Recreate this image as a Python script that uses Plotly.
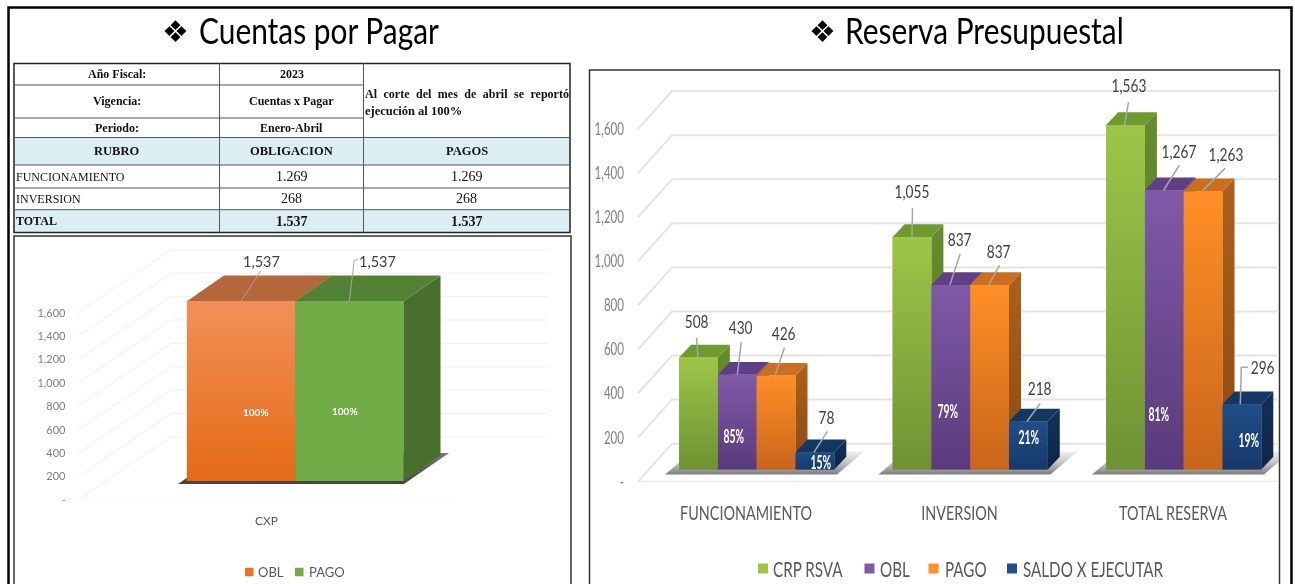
import plotly.graph_objects as go

W, H = 1295, 584
COND = "Lato, Noto Sans, sans-serif"   # Lato, condensed after drawing (see post_script)
SERIF = "Liberation Serif, serif"
LATO = "Lato, sans-serif"

# ---- data -----------------------------------------------------------
res_categories = ["FUNCIONAMIENTO", "INVERSION", "TOTAL RESERVA"]
res_series = ["CRP RSVA", "OBL", "PAGO", "SALDO X EJECUTAR"]
crp_rsva = [508, 1055, 1563]
obl = [430, 837, 1267]
pago = [426, 837, 1263]
saldo = [78, 218, 296]
obl_pct = ["85%", "79%", "81%"]
saldo_pct = ["15%", "21%", "19%"]

cxp_categories = ["CXP"]
cxp_series = ["OBL", "PAGO"]
cxp_obl = [1537]
cxp_pago = [1537]
cxp_pct = ["100%", "100%"]

y_ticks = [0, 200, 400, 600, 800, 1000, 1200, 1400, 1600]
y_ticktext = ["-", "200", "400", "600", "800", "1,000", "1,200", "1,400", "1,600"]

table_rows = [
    ["Año Fiscal:", "2023"],
    ["Vigencia:", "Cuentas x Pagar"],
    ["Periodo:", "Enero-Abril"],
]
table_head = ["RUBRO", "OBLIGACION", "PAGOS"]
table_body = [
    ["FUNCIONAMIENTO", "1.269", "1.269"],
    ["INVERSION", "268", "268"],
]
table_total = ["TOTAL", "1.537", "1.537"]
table_note = ["Al corte del mes de abril se reportó", "ejecución al 100%"]

# ---- styles ---------------------------------------------------------
res_colors = [
    dict(top="#9DC648", bot="#6E9233", side0="#668C2C", side1="#557524", cap="#6F9A30"),
    dict(top="#7F5AA8", bot="#5A3A7C", side0="#5B3C7E", side1="#4A2F69", cap="#5F3F85"),
    dict(top="#FF8F26", bot="#C9651B", side0="#AE601A", side1="#8A4A14", cap="#C96F1F"),
    dict(top="#1F4E88", bot="#17396A", side0="#12305A", side1="#0F2647", cap="#123763"),
]
cxp_colors = [
    dict(top="#F39058", bot="#E56A15", side0="#B5673C", side1="#B5673C", cap="#B5673C"),
    dict(top="#70AD47", bot="#70AD47", side0="#48702C", side1="#48702C", cap="#548235"),
]


def fx(px):
    return px / W


def fy(py):
    return 1 - py / H


fig = go.Figure()
shapes, annos = [], []


def text(px, py, s, size, color="#000", font=COND, anchor="center", weight=400):
    annos.append(dict(xref="paper", yref="paper", x=fx(px), y=fy(py), text=s, showarrow=False,
                      xanchor=anchor, yanchor="middle",
                      font=dict(size=size, color=color, family=font, weight=weight),
                      borderpad=0, align=anchor))


def rect(x0, y0, x1, y1, line="rgba(0,0,0,0)", width=0, fill=None):
    shapes.append(dict(type="rect", xref="paper", yref="paper", x0=fx(x0), x1=fx(x1), y0=fy(y0), y1=fy(y1),
                       line=dict(color=line, width=width), fillcolor=fill, layer="below"))


def panel(name_x, name_y, left, right, ztop, zero, tick_x, slot, sy, axis_x):
    """Axes calibrated in pixels: x in category slots, y in value units."""
    xr = [(left - tick_x) / slot, (right - tick_x) / slot]
    yr = [0, (zero - ztop) / sy]
    return dict(
        x=name_x, y=name_y, xr=xr, yr=yr, slot=slot, sy=sy, tick_x=tick_x, zero=zero,
        dom_x=[fx(left), fx(right)], dom_y=[fy(zero), fy(ztop)], axis_x=axis_x,
    )


def poly(p, xs, ys, color=None, grad=None, gtype="vertical"):
    tr = dict(x=xs, y=ys, xaxis=p["x"], yaxis=p["y"], mode="lines", fill="toself",
              line=dict(width=0), hoverinfo="skip", showlegend=False)
    if grad:
        tr["fillgradient"] = dict(type=gtype, colorscale=[[0, grad[0]], [1, grad[1]]])
    else:
        tr["fillcolor"] = color
    fig.add_trace(go.Scatter(**tr))


def seg(p, xs, ys, color, width):
    fig.add_trace(go.Scatter(x=xs, y=ys, xaxis=p["x"], yaxis=p["y"], mode="lines",
                             line=dict(color=color, width=width), hoverinfo="skip", showlegend=False))


def walls(p, dxpx, dypx, right_px, floor_right_px, left_px, color, width):
    dx = dxpx / p["slot"]
    dy = dypx / p["sy"]
    x0 = (left_px - p["tick_x"]) / p["slot"]
    xe = (right_px - p["tick_x"]) / p["slot"]
    xf = (floor_right_px - p["tick_x"]) / p["slot"]
    for t in y_ticks:
        seg(p, [x0, x0 + dx, xe], [t, t + dy, t + dy], color, width)
    seg(p, [x0, xf], [0, 0], color, width)


def bars(p, cats, names, values, colors, x_shift, bw, floor, ddx, ddy):
    """values: list per series. Returns a helper giving bar centres."""
    n = len(names)
    b = bw / p["slot"]
    centre = lambda i, k: i + x_shift / p["slot"] + (k - (n - 1) / 2) * b
    for k, name in enumerate(names):
        fig.add_trace(go.Bar(x=[centre(i, k) for i in range(len(cats))], y=values[k],
                             base=floor, width=b, name=name, xaxis=p["x"], yaxis=p["y"],
                             marker=dict(color=colors[k]["top"], line=dict(width=0)),
                             hoverinfo="skip", showlegend=False))
    dx = ddx / p["slot"]
    dy = ddy / p["sy"]
    for i in range(len(cats)):
        for k in range(n):
            c = colors[k]
            xl = centre(i, k) - b / 2
            xr = xl + b
            top = floor + values[k][i]
            poly(p, [xr, xr + dx, xr + dx, xr, xr], [floor, floor + dy, top + dy, top, floor],
                 grad=(c["side1"], c["side0"]))
            poly(p, [xl, xr, xr + dx, xl + dx, xl], [top, top, top + dy, top + dy, top], color=c["cap"])
            poly(p, [xl, xr, xr, xl, xl], [floor, floor, top, top, floor], grad=(c["bot"], c["top"]))
    return centre


def shadow(p, xl_px, xr_px, floor, front, back_x, back_y, col):
    """Ground shadow for a group, in pixel offsets from the group's foot."""
    s, sy = p["slot"], p["sy"]
    x = lambda v: (v - p["tick_x"]) / s
    xs = [x(xl_px), x(xr_px), x(xr_px + back_x), x(xl_px + back_x), x(xl_px)]
    ys = [floor - front / sy, floor - front / sy, floor + back_y / sy, floor + back_y / sy, floor - front / sy]
    poly(p, xs, ys, grad=col)


def value_label(p, xc, v, floor, s, off, leader, size, color, font, lcolor, lw):
    y = floor + v
    annos.append(dict(xref=p["x"], yref=p["y"], x=xc, y=y, xshift=off[0], yshift=-off[1], text=s,
                      showarrow=False, font=dict(size=size, color=color, family=font), borderpad=0))
    seg(p, [xc + q[0] / p["slot"] for q in leader], [y - q[1] / p["sy"] for q in leader], lcolor, lw)


# ---- panels ---------------------------------------------------------
R = panel("x", "y", 590, 1279, 71, 481.7, 746, 213.5, 0.2204, 624)
L = panel("x2", "y2", 14, 571, 237, 500, 266.4, 216.6, 0.117, 65.5)

walls(R, 34, 38, 1279, 1278, 638, "#E4E4E4", 2)
walls(L, 93, 63, 548, 457, 78, "#EFEFEF", 1)

# right chart
R_FLOOR = (481.7 - 469.5) / R["sy"]
R_SHIFT = 10.7
R_BW = 38.8
res_vals = [crp_rsva, obl, pago, saldo]
for i in range(3):
    foot = 679 + i * 213.5
    shadow(R, foot - 14, foot + 155 + 3, R_FLOOR, 5, 27, 18, ("rgba(80,80,80,0.75)", "rgba(170,170,170,0.2)"))
centre = bars(R, res_categories, res_series, res_vals, res_colors, R_SHIFT, R_BW, R_FLOOR, 12, 12.7)

res_label_off = [
    [(-2, -36.5), (0, -46), (3, -40)],
    [(3.3, -48), (8.7, -46), (14.3, -39)],
    [(7.4, -43), (8.6, -34), (22.5, -37)],
    [(12, -35.6), (11, -33), (20.7, -37.6)],
]
res_leaders = [
    [[(-0.5, 0), (-2, -20)], [(0, 0), (0.5, -29)], [(-1, 0), (3, -23)]],
    [[(0, 0), (4, -33)], [(-1, 0), (9.4, -31)], [(-0.7, 0), (15, -25)]],
    [[(-1, 0), (8.4, -28)], [(-1, 0), (10, -20)], [(-1, 0), (22.2, -23)]],
    [[(-1, 0), (12.6, -21)], [(-1.5, 0), (11.8, -18)], [(-1.6, 0), (-0.6, -37), (6, -37)]],
]
for k, vals in enumerate(res_vals):
    for i, v in enumerate(vals):
        value_label(R, centre(i, k), v, R_FLOOR, f"{v:,}", res_label_off[k][i], res_leaders[k][i],
                    18, "#404040", COND, "#A6A6A6", 1.5)

pct_off = dict(obl=[(-3.7, 33.8), (-3.3, 59.5), (-5, 56.2)], saldo=[(5.6, 8.5), (0.5, 32.8), (7.4, 30.5)])
for k, labs, offs in ((1, obl_pct, pct_off["obl"]), (3, saldo_pct, pct_off["saldo"])):
    for i, s in enumerate(labs):
        annos.append(dict(xref="x", yref="y", x=centre(i, k), y=R_FLOOR, xshift=offs[i][0], yshift=offs[i][1],
                          text=s, showarrow=False, borderpad=0,
                          font=dict(size=19, color="#FFFFFF", family=COND, weight=700)))

# left chart
L_FLOOR = (500 - 481) / L["sy"]
shadow(L, 178, 404, L_FLOOR, 3, 45, 28, ("#444444", "#777777"))
cxp_vals = [cxp_obl, cxp_pago]
centre2 = bars(L, cxp_categories, cxp_series, cxp_vals, cxp_colors, 28.8, 108.3, L_FLOOR, 37, 25.7)
cxp_off = [(20, -40), (28, -40)]
cxp_leaders = [[(0, 0), (20, -30.7)], [(0, 0), (4.8, -40.7), (8.8, -41.7)]]
for k, vals in enumerate(cxp_vals):
    value_label(L, centre2(0, k), vals[0], L_FLOOR, f"{vals[0]:,}", cxp_off[k], cxp_leaders[k],
                14.5, "#404040", LATO, "#A6A6A6", 1)
for k, (dx_, up) in enumerate([(15.4, 69.3), (-4.2, 70.3)]):
    annos.append(dict(xref="x2", yref="y2", x=centre2(0, k), y=L_FLOOR, xshift=dx_, yshift=up,
                      text=cxp_pct[k], showarrow=False, borderpad=0,
                      font=dict(size=10, color="#FFFFFF", family=LATO, weight=700)))

# ---- frames ---------------------------------------------------------
rect(8.5, 7.5, 1291.5, 610, line="#000000", width=2.5)
rect(14, 236, 571, 610, line="#333333", width=1.5)
rect(589.5, 70, 1279.5, 610, line="#333333", width=1.5)

# ---- titles ---------------------------------------------------------
text(175.5, 31, "❖", 30, "#000", "DejaVu Sans")
text(198, 30, "Cuentas por Pagar", 36, "#000", COND, "left")
text(822, 31, "❖", 30, "#000", "DejaVu Sans")
text(844, 30, "Reserva Presupuestal", 36, "#000", COND, "left")

# ---- table ----------------------------------------------------------
TX = [14, 219.5, 363.5, 570]
TY = [63.5, 85, 118, 137.5, 165, 188, 209.7, 232.5]
rect(TX[0], TY[3], TX[3], TY[4], fill="#DAEEF3")
rect(TX[0], TY[6], TX[3], TY[7], fill="#DAEEF3")
for j in range(1, 7):
    x_end = TX[2] if j < 3 else TX[3]
    shapes.append(dict(type="line", xref="paper", yref="paper", x0=fx(TX[0]), x1=fx(x_end), y0=fy(TY[j]), y1=fy(TY[j]),
                       line=dict(color="#555555", width=1)))
for x_ in TX[1:3]:
    shapes.append(dict(type="line", xref="paper", yref="paper", x0=fx(x_), x1=fx(x_), y0=fy(TY[0]), y1=fy(TY[7]),
                       line=dict(color="#555555", width=1)))
rect(TX[0], TY[0], TX[3], TY[7], line="#222222", width=1.5)
mid = lambda j: (TY[j] + TY[j + 1]) / 2
cx = [(TX[0] + TX[1]) / 2, (TX[1] + TX[2]) / 2, (TX[2] + TX[3]) / 2]
for j, row in enumerate(table_rows):
    for c, s in enumerate(row):
        text(cx[c], mid(j), s, 12, "#111", SERIF, weight=700)
text(364, 94, table_note[0], 12, "#111", SERIF, "left", 700)
text(364, 111, table_note[1], 12.5, "#111", SERIF, "left", 700)
for c, s in enumerate(table_head):
    text(cx[c], mid(3), s, 12.5, "#111", SERIF, weight=700)
for j, row in enumerate(table_body):
    text(14.5, mid(4 + j), row[0], 12, "#111", SERIF, "left")
    for c in (1, 2):
        text(cx[c], mid(4 + j), row[c], 14, "#111", SERIF)
text(14.5, mid(6), table_total[0], 12, "#111", SERIF, "left", 700)
for c in (1, 2):
    text(cx[c], mid(6), table_total[c], 14, "#111", SERIF, weight=700)


# ---- legends --------------------------------------------------------
def swatch(x0, x1, yc, col, name, tx, size, color, font):
    shapes.append(dict(type="rect", xref="paper", yref="paper", x0=fx(x0), x1=fx(x1), y0=fy(yc - (x1 - x0) / 2),
                       y1=fy(yc + (x1 - x0) / 2), fillcolor=col, line=dict(width=0)))
    text(tx, yc, name, size, color, font, "left")


for n, c, x0, tx in zip(res_series, res_colors, [758, 864.5, 928.5, 1007], [772, 879, 943.5, 1021.5]):
    swatch(x0, x0 + 10, 568.5, c["top"], n, tx, 22, "#595959", COND)
for n, c, x0, tx in zip(cxp_series, cxp_colors, [245, 295], [257, 307.8]):
    swatch(x0, x0 + 8.5, 572, c["top"] if n == "PAGO" else "#F07020", n, tx, 13, "#595959", LATO)


# ---- layout ---------------------------------------------------------
def xaxis(p, cats, size, color, font, standoff):
    return dict(domain=p["dom_x"], range=p["xr"], anchor=p["y"], tickmode="array",
                tickvals=list(range(len(cats))), ticktext=cats, showgrid=False, zeroline=False, showline=False,
                ticks="", ticklabelstandoff=standoff, tickfont=dict(size=size, color=color, family=font),
                fixedrange=True)


def yaxis(p, size, color, font):
    return dict(domain=p["dom_y"], range=p["yr"], anchor="free", position=fx(p["axis_x"]), tickmode="array",
                tickvals=y_ticks, ticktext=y_ticktext, showgrid=False, zeroline=False, showline=False, ticks="",
                tickfont=dict(size=size, color=color, family=font), fixedrange=True)


fig.update_layout(
    width=W, height=H, autosize=False, margin=dict(l=0, r=0, t=0, b=0, pad=0, autoexpand=False),
    paper_bgcolor="#FFFFFF", plot_bgcolor="rgba(0,0,0,0)", showlegend=False, barmode="overlay",
    xaxis=xaxis(R, res_categories, 20, "#595959", COND, 17),
    yaxis=yaxis(R, 17, "#7F7F7F", COND),
    xaxis2=xaxis(L, cxp_categories, 12, "#595959", LATO, 12),
    yaxis2=yaxis(L, 11, "#7F7F7F", LATO),
    shapes=shapes, annotations=annos,
)

# The reference's labels are horizontally squeezed; no condensed font is installed,
# so the real text is compressed with SVG textLength after drawing. The slight blur
# matches the soft, upscaled look of the reference picture.
POST = """
document.body.style.margin='0';
var squeeze={'36px':0.83,'20px':0.72,'18px':0.76,'17px':0.68,'22px':0.69,'19px':0.55};
document.querySelectorAll('svg text').forEach(function(t){
  var f=t.style.fontFamily||'', s=t.style.fontSize;
  if(f.indexOf('Noto Sans')>=0 && squeeze[s]){
    t.setAttribute('textLength', t.getComputedTextLength()*squeeze[s]);
    t.setAttribute('lengthAdjust','spacingAndGlyphs');
  }
  if(t.textContent.indexOf('Al corte')===0){
    t.style.wordSpacing='3.5px';
  }
});
document.body.style.filter='blur(0.5px)';
"""
fig.write_html("out.html", config=dict(displayModeBar=False), post_script=POST)
